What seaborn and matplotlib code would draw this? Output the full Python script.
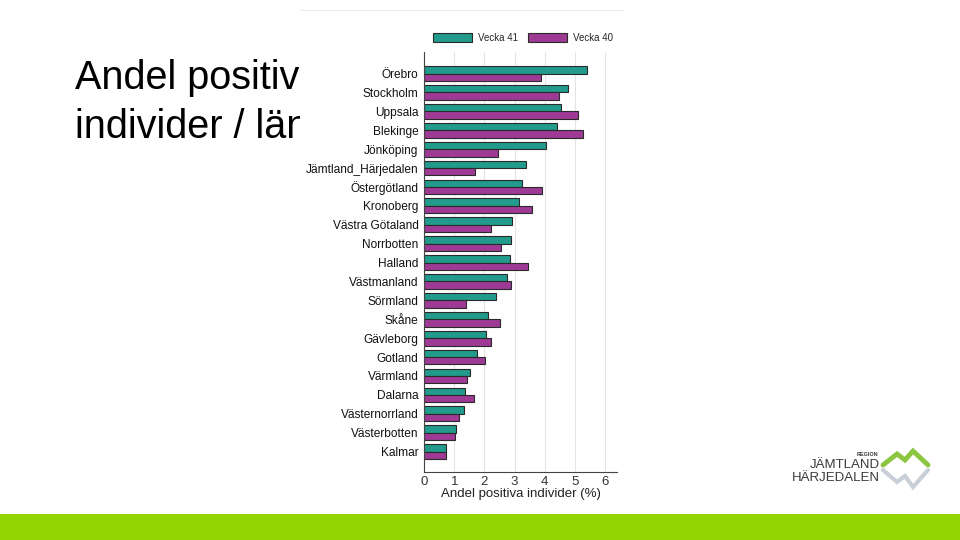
import pandas as pd
import matplotlib.pyplot as plt
import seaborn as sns

# Andel positiva individer per län, vecka 41 och vecka 40
lan = ['Örebro', 'Stockholm', 'Uppsala', 'Blekinge', 'Jönköping',
       'Jämtland_Härjedalen', 'Östergötland', 'Kronoberg', 'Västra Götaland',
       'Norrbotten', 'Halland', 'Västmanland', 'Sörmland', 'Skåne',
       'Gävleborg', 'Gotland', 'Värmland', 'Dalarna', 'Västernorrland',
       'Västerbotten', 'Kalmar']
vecka41 = [5.41, 4.78, 4.55, 4.41, 4.05, 3.39, 3.23, 3.13, 2.92, 2.89, 2.86,
           2.76, 2.39, 2.13, 2.05, 1.77, 1.53, 1.37, 1.31, 1.07, 0.74]
vecka40 = [3.89, 4.48, 5.09, 5.28, 2.46, 1.70, 3.92, 3.59, 2.23, 2.56, 3.45,
           2.89, 1.39, 2.51, 2.23, 2.03, 1.43, 1.67, 1.17, 1.04, 0.74]
veckor = ['Vecka 41', 'Vecka 40']
x_ticks = [0, 1, 2, 3, 4, 5, 6]

df = pd.DataFrame({
    'Län': lan * 2,
    'Andel': vecka41 + vecka40,
    'Vecka': [veckor[0]] * len(lan) + [veckor[1]] * len(lan),
})

sns.set_theme(style='white')
plt.rcParams['font.family'] = ['Liberation Sans', 'DejaVu Sans']

fig = plt.figure(figsize=(9.6, 5.4), dpi=100)
fig.patch.set_facecolor('white')

# Slide title (partly hidden behind the chart image)
fig.text(75 / 960, 1 - 138 / 540, 'Andel positiva\nindivider / län', fontsize=28.5,
         color='black', ha='left', va='baseline', linespacing=1.36, zorder=0)

# White chart "image" covering the title
bg = fig.add_axes([300 / 960, 1 - 500 / 540, 325 / 960, 490 / 540], zorder=1)
bg.set_facecolor('white')
bg.set_xticks([])
bg.set_yticks([])
for s in bg.spines.values():
    s.set_visible(False)
bg.axhline(1.0, color='#e8e8e8', lw=1.2)

ax = fig.add_axes([424 / 960, 68 / 540, 193 / 960, 420 / 540], zorder=2)
sns.barplot(data=df, y='Län', x='Andel', hue='Vecka', orient='h',
            palette=['#229b8c', '#9e3a94'], saturation=1, width=0.78,
            edgecolor='#2a2a2a', linewidth=0.8, ax=ax)

ax.set_xlim(0, 6.39)
ax.set_ylim(20 + 1.08, -1.14)
ax.set_xticks(x_ticks)
ax.set_xticklabels([str(t) for t in x_ticks], fontsize=9.5, color='#333333')
ax.tick_params(axis='y', labelsize=8.6, labelcolor='#111111', length=0, pad=4)
ax.tick_params(axis='x', length=0, pad=3)
ax.set_ylabel('')
ax.set_xlabel('Andel positiva individer (%)', fontsize=9.5, color='#222222', labelpad=0)
ax.grid(axis='x', color='#e4e4e4', lw=0.8)
ax.set_axisbelow(True)
for s in ['top', 'right']:
    ax.spines[s].set_visible(False)
for s in ['left', 'bottom']:
    ax.spines[s].set_color('#444444')
    ax.spines[s].set_linewidth(0.8)

handles, labels = ax.get_legend_handles_labels()
ax.get_legend().remove()
fig.legend(handles, labels, loc='center', ncol=2, frameon=False, fontsize=7,
           bbox_to_anchor=(523 / 960, 1 - 38 / 540), handlelength=4.0,
           handleheight=1.0, columnspacing=1.0, handletextpad=0.6)

# Green band at the bottom of the slide
fig.patches.append(plt.Rectangle((0, 0), 1, 26 / 540, transform=fig.transFigure,
                                 facecolor='#93d500', edgecolor='none', zorder=1))

# Logo
fig.text(878 / 960, 1 - 455 / 540, 'REGION', fontsize=4, fontweight='bold',
         color='#3a3a3a', ha='right', va='center')
fig.text(880 / 960, 1 - 465 / 540, 'JÄMTLAND', fontsize=9.5, color='#3a3a3a',
         ha='right', va='center')
fig.text(880 / 960, 1 - 478 / 540, 'HÄRJEDALEN', fontsize=9.5, color='#3a3a3a',
         ha='right', va='center')
mx = [883 / 960, 897 / 960, 905 / 960, 913 / 960, 928 / 960]
my = [1 - 465 / 540, 1 - 454 / 540, 1 - 460 / 540, 1 - 451 / 540, 1 - 465 / 540]
ry = [1 - 470 / 540, 1 - 482 / 540, 1 - 476 / 540, 1 - 487 / 540, 1 - 470 / 540]
fig.lines.append(plt.Line2D(mx, my, transform=fig.transFigure, color='#8cc63f',
                            lw=3.5, solid_joinstyle='miter'))
fig.lines.append(plt.Line2D(mx, ry, transform=fig.transFigure, color='#c9cfd6',
                            lw=3.0, solid_joinstyle='miter'))

plt.savefig('out.png', dpi=100)
